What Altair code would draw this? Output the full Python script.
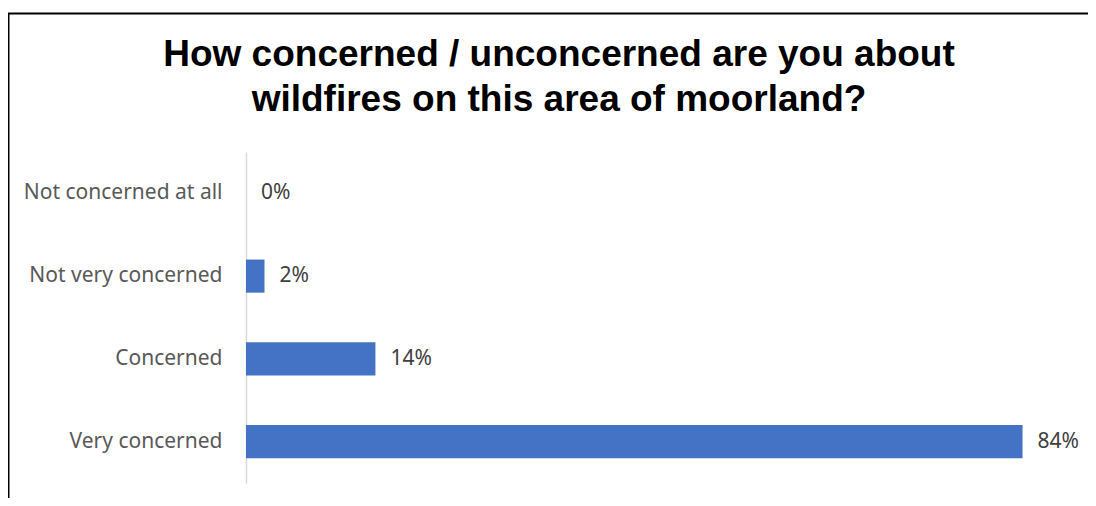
import altair as alt
import pandas as pd

categories = ["Not concerned at all", "Not very concerned", "Concerned", "Very concerned"]
values = [0, 2, 14, 84]
value_labels = ["0%", "2%", "14%", "84%"]
title_lines = ["How concerned / unconcerned are you about", "wildfires on this area of moorland?"]

df = pd.DataFrame({"cat": categories, "val": values, "lab": value_labels})

LABEL_FONT = "Noto Sans"
W, H = 832, 331

y_enc = alt.Y("cat:N", sort=categories, title=None,
              scale=alt.Scale(paddingInner=0.6, paddingOuter=0.3),
              axis=alt.Axis(domainColor="#d9d9d9", domainWidth=1.5, ticks=False,
                            labelFont=LABEL_FONT, labelFontSize=21, labelColor="#595959",
                            labelPadding=24, labelLimit=300))
x_enc = alt.X("val:Q", scale=alt.Scale(domain=[0, 90]), axis=None)

base = alt.Chart(df)
bars = base.mark_bar(color="#4472C4").encode(x=x_enc, y=y_enc)
text = base.mark_text(align="left", baseline="middle", dx=15, font=LABEL_FONT,
                      fontSize=21, color="#404040").encode(x=x_enc, y=y_enc, text="lab:N")

frame_df = pd.DataFrame({"k": [0]})
top_rule = alt.Chart(frame_df).mark_rule(color="black", strokeWidth=2).encode(
    x=alt.value(-238), x2=alt.value(W + 20), y=alt.value(-138.5))
left_rule = alt.Chart(frame_df).mark_rule(color="black", strokeWidth=2).encode(
    x=alt.value(-237.5), y=alt.value(-139), y2=alt.value(H + 30))

chart = alt.layer(bars, text, top_rule, left_rule).properties(
    width=W, height=H,
    title=alt.TitleParams(title_lines, font="Liberation Sans", fontSize=37, fontWeight="bold",
                          color="black", anchor="middle", dx=-103, dy=137, lineHeight=45, offset=30),
    autosize=alt.AutoSizeParams(type="none"),
    padding={"left": 238, "top": 144, "right": 10, "bottom": 15},
).configure_view(stroke=None)

chart.save("out.html", embed_options={"renderer": "svg", "actions": False})
